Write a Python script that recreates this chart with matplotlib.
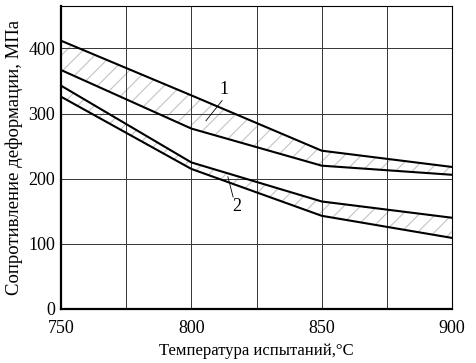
import numpy as np
import matplotlib
matplotlib.use('Agg')
import matplotlib.pyplot as plt

plt.rcParams['font.family'] = ['Liberation Serif', 'DejaVu Serif']
plt.rcParams['hatch.linewidth'] = 0.8
plt.rcParams['hatch.color'] = '#c4c4c4'

# temperatures, C
temp = [750, 800, 850, 900]
# band 1 (upper)
b1_top = [412, 328, 243, 218]
b1_bot = [367, 277, 220, 206]
# band 2 (lower)
b2_top = [343, 225, 165, 140]
b2_bot = [326, 215, 143, 109]

fig = plt.figure(figsize=(4.76, 3.63), dpi=100)
ax = fig.add_axes([0.128, 0.149, 0.822, 0.834])

# hatched bands
for top, bot in [(b1_top, b1_bot), (b2_top, b2_bot)]:
    ax.fill_between(temp, bot, top, facecolor='none', edgecolor='#c4c4c4',
                    hatch='//', linewidth=0)
    ax.plot(temp, top, color='black', linewidth=1.5)
    ax.plot(temp, bot, color='black', linewidth=1.5)

# curve labels with leaders
ax.text(812.5, 337, '1', fontsize=13, ha='center', va='center')
ax.plot([811.8, 805.6], [320, 289], color='black', linewidth=0.6)
ax.text(817.5, 158, '2', fontsize=13, ha='center', va='center')
ax.plot([814, 816], [203, 172], color='black', linewidth=0.6)

ax.set_xlim(750, 900)
ax.set_ylim(0, 465)
ax.set_xticks([750, 800, 850, 900])
ax.set_xticks([775, 825, 875], minor=True)
ax.set_yticks([0, 100, 200, 300, 400])
ax.grid(True, which='both', color='#333333', linewidth=0.7)
ax.tick_params(which='both', length=0, labelsize=13)
ax.tick_params(axis='x', pad=8)
ax.tick_params(axis='y', pad=4)

for s in ['left', 'bottom']:
    ax.spines[s].set_linewidth(1.6)
for s in ['top', 'right']:
    ax.spines[s].set_linewidth(0.8)

ax.set_xlabel('Температура испытаний,°C', fontsize=12, labelpad=4)
ax.set_ylabel('Сопротивление деформации, МПа', fontsize=13.5, labelpad=4)

fig.savefig('out.png', dpi=100)
